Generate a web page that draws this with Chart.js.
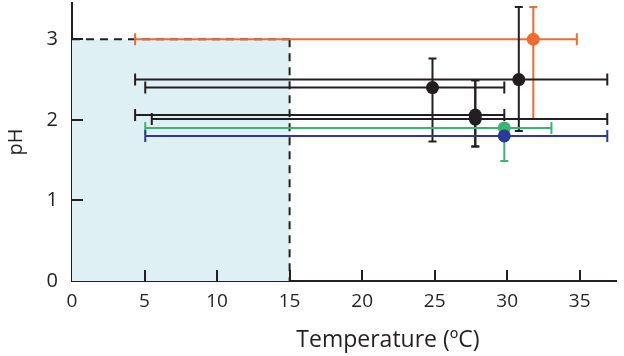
<!DOCTYPE html>
<html>
<head>
<meta charset="utf-8">
<script src="https://cdn.jsdelivr.net/npm/chart.js@4.4.1/dist/chart.umd.min.js"></script>
<style>
  html, body { margin: 0; padding: 0; background: #fff; }
  #chart { display: block; }
</style>
</head>
<body>
<canvas id="chart" width="624" height="356"></canvas>
<script>

// measured points (temperature / pH) with their ranges
var tempC    = [31.8, 24.85, 30.8, 27.8, 27.8, 29.8, 29.8];
var tempLow  = [4.35, 5.05, 4.35, 4.35, 5.5, 5.05, 5.05];
var tempHigh = [34.8, 29.8, 36.9, 29.8, 36.9, 33.05, 36.9];
var phVals   = [3.0, 2.4, 2.5, 2.06, 2.01, 1.9, 1.8];
var phLow    = [2.01, 1.73, 1.86, 1.67, 1.67, 1.49, 1.8];
var phHigh   = [3.4, 2.76, 3.4, 2.49, 2.49, 1.9, 1.8];
var pointColors = ["#f26b2d", "#231f20", "#231f20", "#231f20", "#231f20", "#3cb371", "#2b3a94"];

// shaded zone
var zoneTempMax = 15;
var zonePhMax = 3;

var xTicks = [0, 5, 10, 15, 20, 25, 30, 35];
var yTicks = [0, 1, 2, 3];

var xTitle = 'Temperature (ºC)';
var yTitle = 'pH';

var axisColor = "#231f20";
var fontFamily = "'Open Sans', sans-serif";

var points = tempC.map(function(t, i){ return { x: t, y: phVals[i] }; });

var zonePlugin = {
	id: 'zone',
	beforeDatasetsDraw: function(chart){
		var ctx = chart.ctx, xs = chart.scales.x, ys = chart.scales.y;
		var x0 = xs.getPixelForValue(0), x1 = xs.getPixelForValue(zoneTempMax);
		var y0 = ys.getPixelForValue(0), y1 = ys.getPixelForValue(zonePhMax);
		ctx.save();
		ctx.fillStyle = "#dff0f4";
		ctx.fillRect(x0, y1, x1 - x0, y0 - y1);
		ctx.strokeStyle = axisColor;
		ctx.lineWidth = 2;
		ctx.setLineDash([8, 6]);
		ctx.beginPath();
		ctx.moveTo(x0, y1);
		ctx.lineTo(x1, y1);
		ctx.moveTo(x1, y1);
		ctx.lineTo(x1, y0);
		ctx.stroke();
		ctx.restore();
	}
};

var errorBarPlugin = {
	id: 'errorBars',
	beforeDatasetsDraw: function(chart){
		var ctx = chart.ctx, xs = chart.scales.x, ys = chart.scales.y;
		ctx.save();
		ctx.lineWidth = 2;
		for (var i = 0; i < tempC.length; i++){
			var px = xs.getPixelForValue(tempC[i]);
			var py = ys.getPixelForValue(phVals[i]);
			var xl = xs.getPixelForValue(tempLow[i]);
			var xh = xs.getPixelForValue(tempHigh[i]);
			var yl = ys.getPixelForValue(phLow[i]);
			var yh = ys.getPixelForValue(phHigh[i]);
			ctx.strokeStyle = pointColors[i];
			ctx.beginPath();
			// horizontal range
			ctx.moveTo(xl, py); ctx.lineTo(xh, py);
			ctx.moveTo(xl, py - 6); ctx.lineTo(xl, py + 6);
			ctx.moveTo(xh, py - 6); ctx.lineTo(xh, py + 6);
			// vertical range
			if (phHigh[i] !== phLow[i]){
				ctx.moveTo(px, yl); ctx.lineTo(px, yh);
				if (phLow[i] < phVals[i]){ ctx.moveTo(px - 4, yl); ctx.lineTo(px + 4, yl); }
				if (phHigh[i] > phVals[i]){ ctx.moveTo(px - 4, yh); ctx.lineTo(px + 4, yh); }
			}
			ctx.stroke();
		}
		ctx.restore();
	}
};

// tick marks pointing into the plot + x title (sits right of centre in the original)
var innerTicksPlugin = {
	id: 'innerTicks',
	afterDraw: function(chart){
		var ctx = chart.ctx, xs = chart.scales.x, ys = chart.scales.y;
		var area = chart.chartArea;
		ctx.save();
		ctx.strokeStyle = axisColor;
		ctx.lineWidth = 2;
		ctx.beginPath();
		xTicks.forEach(function(v){
			if (v === 0) return;
			var p = Math.round(xs.getPixelForValue(v));
			ctx.moveTo(p, area.bottom); ctx.lineTo(p, area.bottom - 11);
		});
		yTicks.forEach(function(v){
			if (v === 0) return;
			var p = Math.round(ys.getPixelForValue(v));
			ctx.moveTo(area.left, p); ctx.lineTo(area.left + 11, p);
		});
		ctx.stroke();

		ctx.fillStyle = axisColor;
		ctx.font = "23px " + fontFamily;
		ctx.textAlign = 'center';
		ctx.textBaseline = 'alphabetic';
		ctx.fillText(xTitle, (area.left + area.right) / 2 + 44, 347);
		ctx.restore();
	}
};

var chart_settings = {
	type: 'scatter',
	data: {
		datasets: [{
			data: points,
			pointBackgroundColor: pointColors,
			pointBorderWidth: 0,
			pointRadius: 6.5,
			pointHoverRadius: 6.5,
			clip: false
		}]
	},
	options: {
		responsive: false,
		animation: false,
		devicePixelRatio: 1,
		layout: { autoPadding: false, padding: { top: 3, right: 8, left: 0, bottom: 0 } },
		plugins: { legend: { display: false }, tooltip: { enabled: false } },
		scales: {
			x: {
				type: 'linear',
				min: 0,
				max: 37.5,
				afterBuildTicks: function(scale){ scale.ticks = xTicks.map(function(v){ return { value: v }; }); },
				afterFit: function(scale){ scale.height = 75; scale.paddingLeft = 0; scale.paddingRight = 0; },
				grid: { display: false, drawTicks: false },
				border: { display: true, color: axisColor, width: 2 },
				ticks: { color: axisColor, padding: 9, font: { family: fontFamily, size: 19 } }
			},
			y: {
				type: 'linear',
				min: 0,
				max: 3.45,
				afterBuildTicks: function(scale){ scale.ticks = yTicks.map(function(v){ return { value: v }; }); },
				afterFit: function(scale){ scale.width = 72; scale.paddingTop = 0; scale.paddingBottom = 0; },
				grid: { display: false, drawTicks: false },
				border: { display: true, color: axisColor, width: 2 },
				ticks: { color: axisColor, padding: 14, font: { family: fontFamily, size: 20 } },
				title: {
					display: true,
					text: yTitle,
					color: axisColor,
					font: { family: fontFamily, size: 20 },
					padding: { top: 4, bottom: 0 }
				}
			}
		}
	},
	plugins: [zonePlugin, errorBarPlugin, innerTicksPlugin]
};

var chart = new Chart(document.getElementById('chart'), chart_settings);

</script>
</body>
</html>
